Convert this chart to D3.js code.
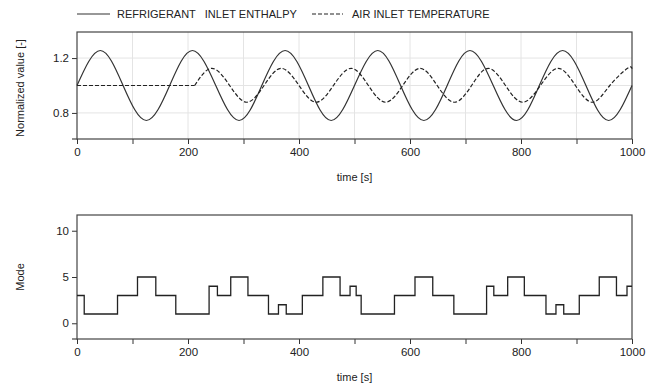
<!DOCTYPE html>
<html>
<head>
<meta charset="utf-8">
<script src="https://cdn.jsdelivr.net/npm/d3@7"></script>
<style>
  body { margin: 0; background: #fff; }
  svg text { font-family: "Liberation Sans", Arial, sans-serif; fill: #222; }
</style>
</head>
<body>
<svg id="chart" width="654" height="388"></svg>
<script>
// refrigerant inlet enthalpy, read at quarter periods
var refT   = [0, 42, 83, 125, 167, 208, 250, 292, 333, 375, 417, 458, 500, 542, 583, 625, 667, 708, 750, 792, 833, 875, 917, 958, 1000];
var refVal = [1.0, 1.255, 1.0, 0.745, 1.0, 1.255, 1.0, 0.745, 1.0, 1.255, 1.0, 0.745, 1.0, 1.255, 1.0, 0.745, 1.0, 1.255, 1.0, 0.745, 1.0, 1.255, 1.0, 0.745, 1.0];

// air inlet temperature: flat until the wave starts
var airStart = 212;
var airT   = [0, 212, 243, 275, 306, 337, 368, 400, 431, 462, 494, 525, 556, 587, 618, 649, 680, 711, 741, 772, 803, 835, 867, 898, 929, 960, 992, 1000];
var airVal = [1.0, 1.0, 1.125, 1.0, 0.878, 1.0, 1.125, 1.0, 0.878, 1.0, 1.125, 1.0, 0.878, 1.0, 1.125, 1.0, 0.878, 1.0, 1.125, 1.0, 0.878, 1.0, 1.125, 1.0, 0.878, 1.0, 1.125, 1.122];

// operating mode (step after)
var modeT   = [0, 13, 73, 109, 142, 178, 238, 253, 277, 308, 345, 363, 377, 406, 443, 474, 492, 503, 512, 572, 609, 641, 679, 738, 751, 776, 806, 845, 863, 877, 905, 941, 972, 991, 1000];
var modeVal = [3, 1, 3, 5, 3, 1, 4, 3, 5, 3, 1, 2, 1, 3, 5, 3, 4, 3, 1, 3, 5, 3, 1, 4, 3, 5, 3, 1, 2, 1, 3, 5, 3, 4, 4];

var xTicks = [0, 100, 200, 300, 400, 500, 600, 700, 800, 900, 1000];
var xLabels = [0, 200, 400, 600, 800, 1000];
var topTicks = [0.8, 1.2];
var topGrid = [0.8, 1.0, 1.2];
var modeTicks = [0, 5, 10];

var svg = d3.select("#chart");
var left = 77, right = 632;
var lineCol = "#333";

var x = d3.scaleLinear().domain([0, 1000]).range([left, right]);

var zip = function(ts, vs) { return ts.map(function(t, i) { return {t: t, v: vs[i]}; }); };
var refData = zip(refT, refVal);
var airData = zip(airT, airVal);
var modeData = zip(modeT, modeVal);

function panel(top, bottom, yDomain, ticks, grid, ylabel, labelY) {
  var y = d3.scaleLinear().domain(yDomain).range([bottom, top]);
  var g = svg.append("g");

  // grid
  if (grid) {
    g.selectAll(".vg").data(xTicks.slice(1, -1)).enter().append("line")
      .attr("x1", x).attr("x2", x).attr("y1", top).attr("y2", bottom)
      .attr("stroke", "#e4e4e4").attr("stroke-width", 1);
    g.selectAll(".hg").data(grid).enter().append("line")
      .attr("x1", left).attr("x2", right).attr("y1", y).attr("y2", y)
      .attr("stroke", "#e4e4e4").attr("stroke-width", 1);
  }

  // x axis
  var xa = g.append("g").attr("transform", "translate(0," + bottom + ")")
    .call(d3.axisBottom(x).tickValues(xTicks).tickSize(5).tickPadding(4)
      .tickFormat(function(d) { return xLabels.indexOf(d) >= 0 ? d : ""; }));
  xa.select(".domain").remove();
  xa.selectAll("line").attr("stroke", lineCol);
  xa.selectAll("text").attr("font-size", 11.5).attr("fill", "#222")
    .style("font-family", "'Liberation Sans', Arial, sans-serif");

  // y axis
  var ya = g.append("g").attr("transform", "translate(" + left + ",0)")
    .call(d3.axisLeft(y).tickValues(ticks).tickSize(5).tickPadding(3)
      .tickFormat(function(d) { return String(d); }));
  ya.select(".domain").remove();
  ya.selectAll("line").attr("stroke", lineCol);
  ya.selectAll("text").attr("font-size", 11.5).attr("fill", "#222")
    .style("font-family", "'Liberation Sans', Arial, sans-serif");

  // frame
  g.append("rect").attr("x", left).attr("y", top)
    .attr("width", right - left).attr("height", bottom - top)
    .attr("fill", "none").attr("stroke", "#444").attr("stroke-width", 1.2);
  g.append("line").attr("x1", left - 5).attr("x2", left).attr("y1", bottom).attr("y2", bottom)
    .attr("stroke", "#444").attr("stroke-width", 1.2);

  // labels
  g.append("text").attr("x", (left + right) / 2).attr("y", bottom + 42)
    .attr("text-anchor", "middle").attr("font-size", 11).text("time [s]");
  g.append("text").attr("transform", "translate(24," + labelY + ") rotate(-90)")
    .attr("text-anchor", "middle").attr("font-size", 11).text(ylabel);

  return {g: g, y: y};
}

// top panel
var p1 = panel(32, 139, [0.61, 1.39], topTicks, topGrid, "Normalized value [-]", 88);
var line1 = d3.line().x(function(d) { return x(d.t); }).y(function(d) { return p1.y(d.v); });

p1.g.append("path").datum(refData)
  .attr("d", line1.curve(d3.curveNatural))
  .attr("fill", "none").attr("stroke", lineCol).attr("stroke-width", 1.2);

p1.g.append("path").datum(airData.filter(function(d) { return d.t <= airStart; }))
  .attr("d", line1.curve(d3.curveLinear))
  .attr("fill", "none").attr("stroke", "#222").attr("stroke-width", 1.2).attr("stroke-dasharray", "4,2");
p1.g.append("path").datum(airData.filter(function(d) { return d.t >= airStart; }))
  .attr("d", line1.curve(d3.curveNatural))
  .attr("fill", "none").attr("stroke", "#222").attr("stroke-width", 1.2).attr("stroke-dasharray", "4,2");

// bottom panel
var p2 = panel(215, 339, [-1.7, 11.7], modeTicks, null, "Mode", 277);
var line2 = d3.line().x(function(d) { return x(d.t); }).y(function(d) { return p2.y(d.v); })
  .curve(d3.curveStepAfter);
p2.g.append("path").datum(modeData).attr("d", line2)
  .attr("fill", "none").attr("stroke", "#222").attr("stroke-width", 1.3);

// legend
var leg = svg.append("g");
leg.append("line").attr("x1", 77).attr("x2", 110).attr("y1", 14).attr("y2", 14)
  .attr("stroke", lineCol).attr("stroke-width", 1.2);
leg.append("text").attr("x", 117).attr("y", 18).attr("font-size", 11)
  .attr("xml:space", "preserve").style("white-space", "pre")
  .text("REFRIGERANT   INLET ENTHALPY");
leg.append("line").attr("x1", 312).attr("x2", 343).attr("y1", 14).attr("y2", 14)
  .attr("stroke", "#222").attr("stroke-width", 1.2).attr("stroke-dasharray", "4,2");
leg.append("text").attr("x", 352).attr("y", 18).attr("font-size", 11)
  .text("AIR INLET TEMPERATURE");
</script>
</body>
</html>
